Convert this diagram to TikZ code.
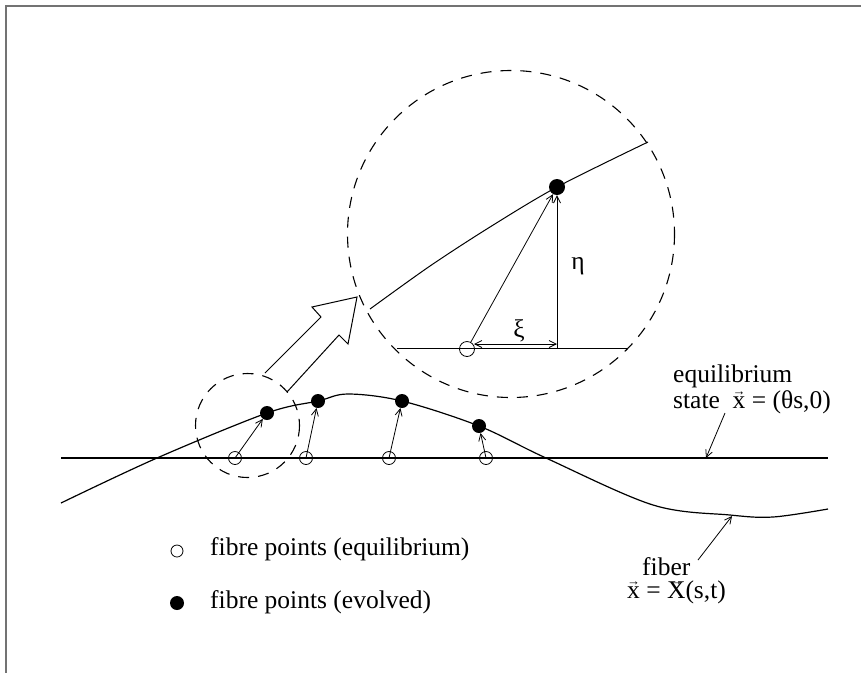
\documentclass[tikz,border=0pt]{standalone}
\usepackage{fontspec}
\setmainfont{Liberation Serif}
\usetikzlibrary{arrows.meta}
\newcommand{\vx}[1]{\ooalign{#1\cr\hidewidth\raisebox{0.5em}{\fontsize{13}{13}\selectfont →}\hidewidth\cr}}
\begin{document}
\begin{tikzpicture}[x=1pt,y=-1pt,
  lbl/.style={font=\fontsize{25.5}{30}\selectfont, inner sep=0pt},
  opnpt/.style={circle, draw, line width=0.8pt, minimum size=13pt, inner sep=0pt},
  fillpt/.style={circle, fill, minimum size=14pt, inner sep=0pt},
  disp/.style={line width=0.8pt, -{Straight Barb[length=7pt,width=7pt]}},
  fibre/.style={line width=1.2pt},
  zoomc/.style={dash pattern=on 11pt off 9pt, line width=1.1pt}]
\useasboundingbox (0,0) rectangle (861,673);
% frame
\draw[black!55, line width=1.5pt] (861,6) -- (6,6) -- (6,673);
% equilibrium line
\draw[line width=1.3pt] (61,458) -- (828,458);
% fibre
\draw[fibre] plot[smooth, tension=0.55] coordinates {(61,503) (157,458) (267,413) (318,401) (348,394) (402,401) (479,426) (546,458) (653,505) (730,515) (773,517) (828,509)};
% points
\node[opnpt] (o1) at (235,458) {};
\node[opnpt] (o2) at (306,458) {};
\node[opnpt] (o3) at (389,458) {};
\node[opnpt] (o4) at (486,458) {};
\node[fillpt] (d1) at (267,413) {};
\node[fillpt] (d2) at (318,401) {};
\node[fillpt] (d3) at (402,401) {};
\node[fillpt] (d4) at (479,426) {};
\draw[disp] (o1.center) -- (d1);
\draw[disp] (o2.center) -- (d2);
\draw[disp] (o3.center) -- (d3);
\draw[disp] (o4.center) -- (d4);
% small zoom circle
\draw[zoomc] (247.5,425.5) circle[radius=52];
% big zoom circle
\draw[zoomc] (511,234) circle[radius=163.5];
% hollow arrow
\draw[line width=1pt, line join=miter] (265,373) -- (321,317) -- (312,307) -- (357,297) -- (348,344) -- (339,335) -- (287,392);
% magnified view
\draw[line width=1pt] (397,348) -- (627,348);
\draw[line width=1pt] plot[smooth, tension=0.5] coordinates {(370,309) (430,266) (490,227) (557,187) (648,142)};
\node[opnpt, minimum size=15pt] (bo) at (467,349) {};
\node[fillpt, minimum size=16pt] (bd) at (557,187) {};
\coordinate (foot) at (557,348);
\coordinate (xil) at (474,344);
\coordinate (xir) at (557,344);
\draw[disp] (bo) -- (bd);
\draw[disp] (foot) -- (bd);
\draw[line width=0.8pt, {Straight Barb[length=7pt,width=7pt]}-{Straight Barb[length=7pt,width=7pt]}] (xil) -- (xir);
\node[lbl] (eta) at (578,266) {η};
\node[lbl] (xi) at (519,331) {ξ};
% labels
\node[lbl, anchor=base west] (eq1) at (673,382) {equilibrium};
\node[lbl, anchor=base west] (eq2) at (673,408) {state\ \ \vx{x} = (θs,0)};
\coordinate (eqtail) at (725,413);
\coordinate (eqhead) at (706,458);
\draw[disp] (eqtail) -- (eqhead);
\node[lbl, anchor=base west] (fb1) at (642,575) {fiber};
\node[lbl, anchor=base west] (fb2) at (627,598) {\vx{x} = \vx{X}(s,t)};
\coordinate (fbtail) at (698,560);
\coordinate (fbhead) at (732,516);
\draw[disp] (fbtail) -- (fbhead);
% legend
\node[opnpt, minimum size=12pt] (lo) at (177,551) {};
\node[fillpt] (lf) at (177,603) {};
\node[lbl, anchor=base west] (lt1) at (210,555) {fibre points (equilibrium)};
\node[lbl, anchor=base west] (lt2) at (210,608) {fibre points (evolved)};
\end{tikzpicture}
\end{document}
